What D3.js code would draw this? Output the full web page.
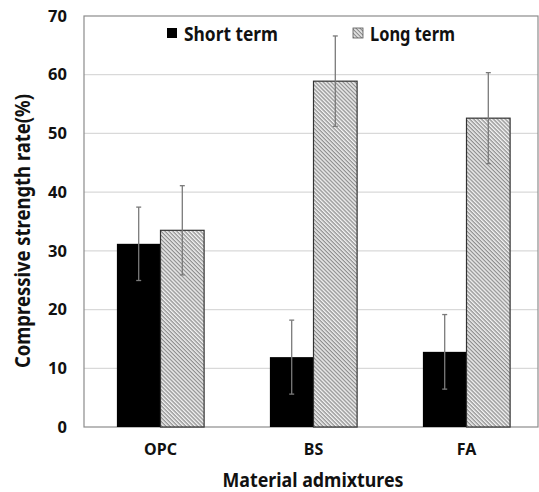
<!DOCTYPE html>
<html>
<head>
<meta charset="utf-8">
<script src="https://cdn.jsdelivr.net/npm/d3@7"></script>
<style>
  body { margin: 0; background: #fff; }
  text { font-family: "Noto Sans", "Open Sans", sans-serif; font-weight: bold; fill: #111; }
</style>
</head>
<body>
<svg id="chart"></svg>
<script>
// data
const categories = ["OPC", "BS", "FA"];
const seriesNames = ["Short term", "Long term"];
const shortTerm = [31.2, 11.9, 12.8];
const longTerm = [33.5, 58.9, 52.6];
const shortErr = [6.25, 6.3, 6.35];
const longErr = [7.6, 7.7, 7.75];
const yTicks = [0, 10, 20, 30, 40, 50, 60, 70];

const width = 539, height = 492;
const margin = { top: 16, right: 1, bottom: 65, left: 84 };

const svg = d3.select("#chart")
    .attr("width", width)
    .attr("height", height);

// hatch pattern for long term bars
const defs = svg.append("defs");
const pat = defs.append("pattern")
    .attr("id", "hatch")
    .attr("patternUnits", "userSpaceOnUse")
    .attr("width", 2.8)
    .attr("height", 2.8)
    .attr("patternTransform", "rotate(45)");
pat.append("rect")
    .attr("width", 2.8).attr("height", 2.8)
    .attr("fill", "#f2f2f2");
pat.append("line")
    .attr("x1", 0).attr("y1", 0.7)
    .attr("x2", 2.8).attr("y2", 0.7)
    .attr("stroke", "#7c7c7c")
    .attr("stroke-width", 1.1);

const plotW = width - margin.left - margin.right;
const plotH = height - margin.top - margin.bottom;

const x0 = d3.scaleBand()
    .domain(categories)
    .range([0, 459])
    .paddingInner(0.43)
    .paddingOuter(0.215);

const x1 = d3.scaleBand()
    .domain(seriesNames)
    .range([0, x0.bandwidth()]);

const y = d3.scaleLinear()
    .domain([0, 70])
    .range([plotH, 0]);

const g = svg.append("g")
    .attr("transform", `translate(${margin.left},${margin.top})`);

// gridlines
g.append("g")
    .selectAll("line")
    .data(yTicks.filter(d => d > 0 && d < 70))
    .join("line")
    .attr("x1", 0).attr("x2", plotW)
    .attr("y1", d => y(d)).attr("y2", d => y(d))
    .attr("stroke", "#d9d9d9")
    .attr("stroke-width", 1.3);

// frame
g.append("rect")
    .attr("x", 0).attr("y", 0)
    .attr("width", plotW).attr("height", plotH)
    .attr("fill", "none")
    .attr("stroke", "#8c8c8c")
    .attr("stroke-width", 1.2);

const rows = categories.map((c, i) => ({
  cat: c,
  vals: [
    { key: "Short term", v: shortTerm[i], e: shortErr[i] },
    { key: "Long term", v: longTerm[i], e: longErr[i] }
  ]
}));

const groups = g.selectAll(".grp")
    .data(rows)
    .join("g")
    .attr("class", "grp")
    .attr("transform", d => `translate(${x0(d.cat)},0)`);

groups.selectAll("rect")
    .data(d => d.vals)
    .join("rect")
    .attr("x", d => x1(d.key))
    .attr("y", d => y(d.v))
    .attr("width", x1.bandwidth())
    .attr("height", d => y(0) - y(d.v))
    .attr("fill", d => d.key === "Short term" ? "#000" : "url(#hatch)")
    .attr("stroke", d => d.key === "Short term" ? "none" : "#333")
    .attr("stroke-width", 1.2);

// error bars
const errG = groups.selectAll(".err")
    .data(d => d.vals)
    .join("g")
    .attr("class", "err")
    .attr("transform", d => `translate(${x1(d.key) + x1.bandwidth() / 2},0)`);

errG.append("line")
    .attr("y1", d => y(d.v + d.e))
    .attr("y2", d => y(d.v - d.e))
    .attr("stroke", "#7a7a7a")
    .attr("stroke-width", 1.3);
errG.selectAll(".cap")
    .data(d => [d.v + d.e, d.v - d.e])
    .join("line")
    .attr("class", "cap")
    .attr("x1", -2.5).attr("x2", 2.5)
    .attr("y1", d => y(d)).attr("y2", d => y(d))
    .attr("stroke", "#7a7a7a")
    .attr("stroke-width", 1.3);

// y axis labels
const yAxis = d3.axisLeft(y)
    .tickValues(yTicks)
    .tickSize(0)
    .tickPadding(17);
g.append("g")
    .call(yAxis)
    .call(a => a.select(".domain").remove())
    .selectAll("text")
    .attr("font-size", 16.5)
    .attr("font-family", null)
    .style("fill", "#111");

// x axis labels
const xAxis = d3.axisBottom(x0)
    .tickSize(0)
    .tickPadding(17);
g.append("g")
    .attr("transform", `translate(0,${plotH})`)
    .call(xAxis)
    .call(a => a.select(".domain").remove())
    .selectAll("text")
    .attr("font-size", 16)
    .attr("font-family", null);

// axis titles
svg.append("text")
    .attr("transform", `translate(30,231) rotate(-90)`)
    .attr("text-anchor", "middle")
    .attr("font-size", 21)
    .attr("textLength", 274)
    .attr("lengthAdjust", "spacingAndGlyphs")
    .text("Compressive strength rate(%)");

svg.append("text")
    .attr("x", 313)
    .attr("y", 487)
    .attr("text-anchor", "middle")
    .attr("font-size", 19)
    .attr("textLength", 181)
    .attr("lengthAdjust", "spacingAndGlyphs")
    .text("Material admixtures");

// legend
const legend = svg.append("g");
const legendX = [167, 353];
seriesNames.forEach((s, i) => {
  legend.append("rect")
      .attr("x", legendX[i]).attr("y", 28)
      .attr("width", 10).attr("height", 10)
      .attr("fill", i === 0 ? "#000" : "url(#hatch)")
      .attr("stroke", i === 0 ? "none" : "#555")
      .attr("stroke-width", 0.8);
  legend.append("text")
      .attr("x", legendX[i] + 17)
      .attr("y", 40.5)
      .attr("font-size", 19)
      .attr("textLength", i === 0 ? 94 : 85)
      .attr("lengthAdjust", "spacingAndGlyphs")
      .text(s);
});
</script>
</body>
</html>
